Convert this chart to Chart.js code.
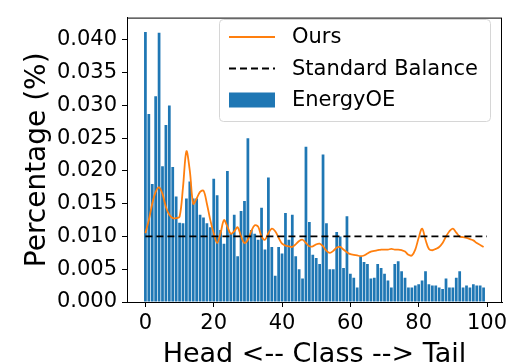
<!DOCTYPE html>
<html>
<head>
<meta charset="utf-8">
<script src="https://cdn.jsdelivr.net/npm/chart.js@4/dist/chart.umd.min.js"></script>
<style>
  html, body { margin:0; padding:0; background:#fff; }
  #wrap { width:520px; height:364px; }
</style>
</head>
<body>
<div id="wrap"><canvas id="chart" width="520" height="364"></canvas></div>
<script>
// class index 0..99 (head -> tail)
const classIds = Array.from({length: 100}, (_, i) => i);

// EnergyOE share per class (bars)
const energyOE = [
  0.0412, 0.0287, 0.0180, 0.0314, 0.0411, 0.0207, 0.0270, 0.0300, 0.0206, 0.0161,
  0.0121, 0.0120, 0.0158, 0.0184, 0.0158, 0.0158, 0.0133, 0.0129, 0.0120, 0.0114,
  0.0188, 0.0163, 0.0110, 0.0089, 0.0200, 0.0104, 0.0133, 0.0070, 0.0139, 0.0154,
  0.0250, 0.0110, 0.0104, 0.0095, 0.0144, 0.0080, 0.0190, 0.0084, 0.0040, 0.0084,
  0.0074, 0.0136, 0.0095, 0.0133, 0.0070, 0.0050, 0.0036, 0.0237, 0.0122, 0.0072,
  0.0067, 0.0058, 0.0225, 0.0120, 0.0050, 0.0050, 0.0107, 0.0100, 0.0052, 0.0131,
  0.0043, 0.0037, 0.0022, 0.0070, 0.0061, 0.0058, 0.0036, 0.0037, 0.0058, 0.0052,
  0.0043, 0.0033, 0.0022, 0.0058, 0.0062, 0.0047, 0.0037, 0.0022, 0.0022, 0.0025,
  0.0027, 0.0033, 0.0047, 0.0027, 0.0025, 0.0025, 0.0022, 0.0020, 0.0036, 0.0022,
  0.0022, 0.0037, 0.0047, 0.0022, 0.0025, 0.0022, 0.0027, 0.0025, 0.0025, 0.0022
];

// Ours share per class (orange line)
const ours = [
  0.0105, 0.0125, 0.0150, 0.0168, 0.0175, 0.0165, 0.0145, 0.0133, 0.0128, 0.0128,
  0.0130, 0.0175, 0.0230, 0.0200, 0.0150, 0.0158, 0.0168, 0.0170, 0.0150, 0.0125,
  0.0105, 0.0090, 0.0105, 0.0125, 0.0115, 0.0104, 0.0108, 0.0114, 0.0100, 0.0090,
  0.0095, 0.0108, 0.0117, 0.0115, 0.0100, 0.0095, 0.0105, 0.0112, 0.0108, 0.0098,
  0.0089, 0.0086, 0.0085, 0.0084, 0.0088, 0.0093, 0.0095, 0.0090, 0.0085, 0.0085,
  0.0088, 0.0089, 0.0085, 0.0078, 0.0075, 0.0078, 0.0083, 0.0084, 0.0080, 0.0076,
  0.0073, 0.0072, 0.0071, 0.0070, 0.0071, 0.0074, 0.0077, 0.0078, 0.0079, 0.0080,
  0.0080, 0.0080, 0.0081, 0.0080, 0.0080, 0.0079, 0.0077, 0.0072, 0.0071, 0.0080,
  0.0098, 0.0112, 0.0095, 0.0081, 0.0079, 0.0081, 0.0084, 0.0090, 0.0100, 0.0108,
  0.0112, 0.0106, 0.0100, 0.0099, 0.0098, 0.0096, 0.0094, 0.0090, 0.0087, 0.0084
];

// uniform reference
const balanceX = [0, 100];
const balanceY = [0.01, 0.01];

const FONT = 'DejaVu Sans';

// frame on all four sides, like a matplotlib axes
const framePlugin = {
  id: 'frame',
  afterDatasetsDraw(chart){
    const {ctx, chartArea:a} = chart;
    ctx.save();
    ctx.strokeStyle = '#000';
    ctx.lineWidth = 1;
    ctx.strokeRect(a.left + 0.5, a.top + 0.5, a.right - a.left - 1, a.bottom - a.top);
    ctx.restore();
  }
};

// legend box in the upper right of the plot
const legendPlugin = {
  id: 'boxLegend',
  afterDraw(chart){
    const ctx = chart.ctx;
    const ds = chart.data.datasets;
    const order = [1, 2, 0]; // Ours, Standard Balance, EnergyOE
    const x0 = 219, y0 = 19, w = 271, h = 102;
    ctx.save();
    ctx.fillStyle = 'rgba(255,255,255,0.8)';
    ctx.strokeStyle = '#d6d6d6';
    ctx.lineWidth = 1;
    ctx.beginPath();
    ctx.roundRect(x0 + 0.5, y0 + 0.5, w, h, 4);
    ctx.fill();
    ctx.stroke();

    ctx.font = '21px "' + FONT + '"';
    ctx.textBaseline = 'middle';
    ctx.fillStyle = '#000';
    order.forEach((idx, row) => {
      const d = ds[idx];
      const cy = 37 + row * 31.5;
      if (d.type === 'bar'){
        ctx.fillStyle = d.backgroundColor;
        ctx.fillRect(229, cy - 7.5, 46, 15);
      } else {
        ctx.strokeStyle = d.borderColor;
        ctx.lineWidth = d.borderWidth;
        ctx.setLineDash(d.borderDash || []);
        ctx.beginPath();
        ctx.moveTo(229, cy);
        ctx.lineTo(275, cy);
        ctx.stroke();
        ctx.setLineDash([]);
      }
      ctx.fillStyle = '#000';
      ctx.fillText(d.label, 292, cy + 1);
    });
    ctx.restore();
  }
};

const ctx = document.getElementById('chart');
new Chart(ctx, {
  data: {
    datasets: [
      {
        type: 'bar',
        label: 'EnergyOE',
        data: classIds.map((c, i) => ({x: c, y: energyOE[i]})),
        backgroundColor: '#1f77b4',
        borderWidth: 0,
        barPercentage: 0.8,
        categoryPercentage: 1.0,
        order: 3
      },
      {
        type: 'line',
        label: 'Ours',
        data: classIds.map((c, i) => ({x: c, y: ours[i]})),
        borderColor: '#ff7f0e',
        borderWidth: 1.8,
        pointRadius: 0,
        tension: 0.35,
        fill: false,
        order: 2
      },
      {
        type: 'line',
        label: 'Standard Balance',
        data: balanceX.map((x, i) => ({x, y: balanceY[i]})),
        borderColor: '#000',
        borderWidth: 1.8,
        borderDash: [7, 4],
        pointRadius: 0,
        fill: false,
        order: 1
      }
    ]
  },
  options: {
    responsive: false,
    animation: false,
    layout: { padding: { top: 7, right: 18, bottom: 0, left: 0 } },
    plugins: {
      legend: { display: false },
      tooltip: { enabled: false }
    },
    scales: {
      x: {
        type: 'linear',
        offset: false,
        min: -5.39,
        max: 104.39,
        ticks: { stepSize: 20, includeBounds: false, color: '#000', padding: 4,
                 font: { family: FONT, size: 21 } },
        grid: { display: true, offset: false, drawOnChartArea: false, drawTicks: true, tickLength: 5, color: '#000' },
        border: { display: true, color: '#000', width: 1 },
        title: { display: true, text: 'Head <-- Class --> Tail', color: '#000',
                 font: { family: FONT, size: 27, lineHeight: 0.66 }, padding: { top: 0, bottom: 0 } },
        afterFit: s => { s.height = 62; }
      },
      y: {
        type: 'linear',
        min: 0,
        max: 0.0434,
        ticks: { stepSize: 0.005, includeBounds: false, color: '#000', padding: 5,
                 font: { family: FONT, size: 21 },
                 callback: v => Number(v).toFixed(3) },
        grid: { display: true, drawOnChartArea: false, drawTicks: true, tickLength: 5, color: '#000' },
        border: { display: true, color: '#000', width: 1 },
        title: { display: true, text: 'Percentage (%)', color: '#000',
                 font: { family: FONT, size: 28, lineHeight: 1.2 }, padding: { top: 21, bottom: 0 } },
        afterFit: s => { s.width = 127; }
      }
    }
  },
  plugins: [framePlugin, legendPlugin]
});
</script>
</body>
</html>
